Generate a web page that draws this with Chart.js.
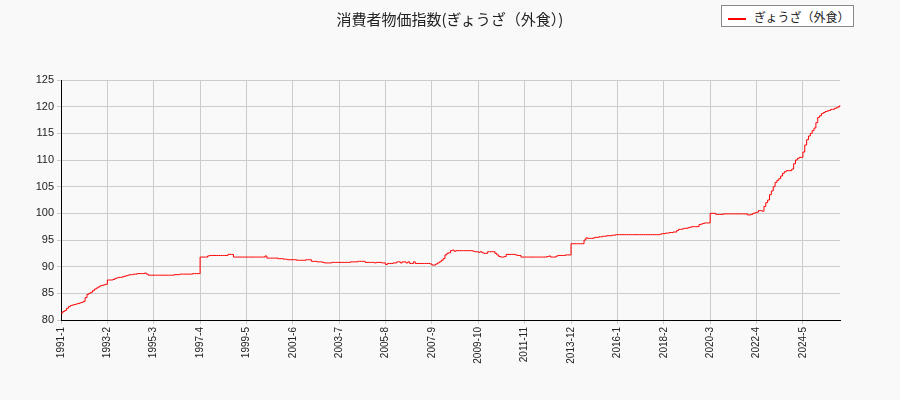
<!DOCTYPE html>
<html><head><meta charset="utf-8">
<script src="https://cdn.jsdelivr.net/npm/chart.js@4"></script>
<style>
body{margin:0;background:#f9f9f9;font-family:"Noto Sans CJK JP","DejaVu Sans",sans-serif}
#wrap{position:relative;width:900px;height:400px}
#title{position:absolute;left:0;width:900px;top:8px;text-align:center;font-size:15px;color:#222}
#legend{position:absolute;left:721px;top:5px;width:133px;height:22px;border:1px solid #888;background:#fff;font-size:12px;line-height:22px;box-sizing:border-box;color:#222}
#legend span{display:inline-block;width:18px;height:2px;background:red;vertical-align:middle;margin:0 8px 0 6px}
canvas{position:absolute;left:0;top:0}
</style></head><body>
<div id="wrap"><canvas id="c" width="900" height="400"></canvas>
<div id="title">消費者物価指数(ぎょうざ（外食）)</div>
<div id="legend"><span></span>ぎょうざ（外食）</div></div>
<script>
const startYear = 1991
const y1991 = [81.3,81.6,81.8,82.2,82.5,82.7,82.8,82.9,83.0,83.1,83.2,83.3]
const y1992 = [83.5,84.2,84.8,85.0,85.2,85.5,85.8,86.0,86.2,86.4,86.5,86.6]
const y1993 = [86.7,87.5,87.5,87.5,87.6,87.8,87.9,88.0,88.0,88.1,88.2,88.3]
const y1994 = [88.4,88.5,88.5,88.6,88.6,88.7,88.7,88.7,88.7,88.8,88.6,88.4]
const y1995 = [88.4,88.4,88.4,88.4,88.4,88.4,88.4,88.4,88.4,88.4,88.4,88.4]
const y1996 = [88.4,88.5,88.5,88.5,88.6,88.6,88.6,88.6,88.6,88.6,88.6,88.7]
const y1997 = [88.7,88.7,88.7,91.8,91.8,91.8,91.8,92.0,92.1,92.1,92.1,92.1]
const y1998 = [92.1,92.1,92.1,92.1,92.1,92.1,92.3,92.3,92.3,91.8,91.8,91.8]
const y1999 = [91.8,91.8,91.8,91.8,91.8,91.8,91.8,91.8,91.8,91.8,91.8,91.8]
const y2000 = [91.8,91.8,92.0,91.6,91.6,91.6,91.6,91.6,91.6,91.5,91.5,91.5]
const y2001 = [91.4,91.4,91.3,91.3,91.3,91.3,91.3,91.2,91.2,91.2,91.2,91.2]
const y2002 = [91.3,91.3,91.3,91.0,91.0,91.0,90.9,90.9,90.9,90.8,90.7,90.7]
const y2003 = [90.7,90.7,90.8,90.8,90.8,90.8,90.8,90.8,90.8,90.8,90.8,90.8]
const y2004 = [90.9,90.9,90.9,90.9,91.0,91.0,91.0,91.0,90.8,90.8,90.8,90.8]
const y2005 = [90.8,90.7,90.8,90.8,90.8,90.7,90.7,90.4,90.6,90.6,90.6,90.7]
const y2006 = [90.7,90.9,90.9,90.7,90.9,90.9,90.7,90.9,90.6,90.6,90.9,90.6]
const y2007 = [90.6,90.6,90.6,90.6,90.6,90.6,90.6,90.5,90.3,90.3,90.5,90.7]
const y2008 = [90.9,91.2,91.5,92.2,92.5,92.6,93.0,93.1,92.9,93.0,93.0,93.0]
const y2009 = [93.0,93.0,93.0,93.0,93.0,93.0,92.9,92.8,92.8,92.7,92.8,92.6]
const y2010 = [92.5,92.5,92.8,92.8,92.8,92.8,92.5,92.2,91.9,91.8,91.8,91.9]
const y2011 = [92.3,92.3,92.3,92.3,92.3,92.2,92.1,92.1,91.8,91.8,91.8,91.8]
const y2012 = [91.8,91.8,91.8,91.8,91.8,91.8,91.8,91.8,91.8,91.8,91.9,92.0]
const y2013 = [91.8,91.8,91.8,92.0,92.1,92.1,92.1,92.1,92.2,92.2,92.2,94.3]
const y2014 = [94.3,94.3,94.3,94.3,94.3,94.3,95.0,95.4,95.3,95.3,95.3,95.4]
const y2015 = [95.5,95.5,95.6,95.6,95.7,95.7,95.8,95.8,95.8,95.9,95.9,96.0]
const y2016 = [96.0,96.0,96.0,96.0,96.0,96.0,96.0,96.0,96.0,96.0,96.0,96.0]
const y2017 = [96.0,96.0,96.0,96.0,96.0,96.0,96.0,96.0,96.0,96.0,96.0,96.1]
const y2018 = [96.2,96.2,96.3,96.3,96.4,96.4,96.5,96.5,96.8,97.0,97.0,97.1]
const y2019 = [97.2,97.2,97.3,97.4,97.5,97.5,97.5,97.5,97.9,98.0,98.1,98.2]
const y2020 = [98.2,98.2,100.0,100.0,100.0,99.8,99.8,99.8,99.8,99.9,99.9,99.9]
const y2021 = [99.9,99.9,99.9,99.9,99.9,99.9,99.9,99.9,99.9,99.9,99.7,99.7]
const y2022 = [99.8,100.0,100.1,100.2,100.5,100.5,100.4,101.3,102.0,102.5,103.5,104.2]
const y2023 = [105.0,105.8,106.2,106.5,107.0,107.5,107.8,108.0,108.0,108.0,108.3,109.3]
const y2024 = [110.0,110.3,110.5,110.5,111.5,112.8,113.8,114.5,115.0,115.5,116.0,117.0]
const y2025 = [118.0,118.3,118.7,118.9,119.1,119.2,119.3,119.5,119.5,119.7,119.8,120.0]
const y2026 = [120.3]
const yearValues = [y1991,y1992,y1993,y1994,y1995,y1996,y1997,y1998,y1999,y2000,y2001,y2002,
  y2003,y2004,y2005,y2006,y2007,y2008,y2009,y2010,y2011,y2012,y2013,y2014,y2015,y2016,y2017,
  y2018,y2019,y2020,y2021,y2022,y2023,y2024,y2025,y2026]
const yTicks = [80,85,90,95,100,105,110,115,120,125]
const tickEvery = 25

const labels = []
const values = []
yearValues.forEach((arr, i) => arr.forEach((v, m) => {
  labels.push(`${startYear + i}-${m + 1}`)
  values.push(v)
}))

new Chart(document.getElementById('c'), {
  type: 'line',
  data: { labels: labels, datasets: [{ data: values, borderColor: '#ff0000', borderWidth: 1, pointRadius: 0, stepped: true, fill: false }] },
  options: {
    animation: false, responsive: false,
    layout: { padding: { left: 0, right: 60, top: 80, bottom: 0 } },
    plugins: { legend: { display: false }, tooltip: { enabled: false } },
    scales: {
      x: {
        offset: false,
        afterFit: (s) => { s.height = 80 },
        grid: { color: '#cccccc', tickLength: 4 },
        border: { color: '#000' },
        ticks: {
          autoSkip: false, maxRotation: 90, minRotation: 90, color: '#222', font: { size: 10 },
          callback: (v, i) => (i % tickEvery === 0 ? labels[i] : null)
        }
      },
      y: {
        min: 80, max: 125,
        afterFit: (s) => { s.width = 61 },
        afterBuildTicks: (s) => { s.ticks = yTicks.map((v) => ({ value: v })) },
        grid: { color: '#cccccc', tickLength: 4 },
        border: { color: '#000' },
        ticks: { color: '#222', font: { size: 11 } }
      }
    }
  }
})
</script></body></html>
